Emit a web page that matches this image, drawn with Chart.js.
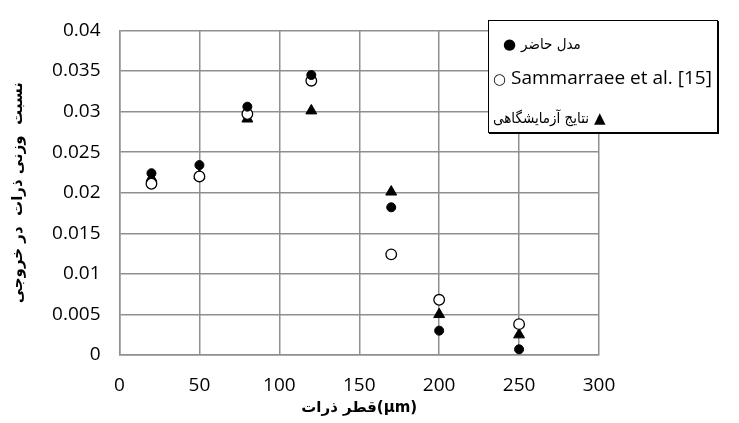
<!DOCTYPE html>
<html>
<head>
<meta charset="utf-8">
<script src="https://cdn.jsdelivr.net/npm/chart.js@4"></script>
<style>
  html, body { margin: 0; padding: 0; background: #fff; }
  #wrap { position: relative; width: 739px; height: 423px; }
  #legend {
    position: absolute; left: 488px; top: 20px; width: 230px; height: 113px;
    background: #fff; border: 1.5px solid #000; box-shadow: 1px 1px 0 #000;
    font-family: "Open Sans", sans-serif; font-size: 19px; color: #000;
    box-sizing: border-box;
  }
  .row { position: absolute; right: 0; white-space: nowrap; line-height: 24px; }
  .fa { font-family: "DejaVu Sans Condensed", "DejaVu Sans", sans-serif; font-size: 15px; }
  .mk { font-family: "DejaVu Sans", sans-serif; font-size: 15px; }
</style>
</head>
<body>
<div id="wrap">
  <canvas id="chart" width="739" height="423"></canvas>
  <div id="legend"></div>
</div>
<script>
const diameters = [20, 50, 80, 120, 170, 200, 250];
const presentModel = [0.0224, 0.0234, 0.0306, 0.0345, 0.0182, 0.0030, 0.0007];
const sammarraee = [0.0211, 0.0220, 0.0297, 0.0338, 0.0124, 0.0068, 0.0038];
const experiment = [0.0218, 0.0221, 0.0291, 0.0301, 0.0201, 0.0050, 0.0025];
const seriesNames = ['مدل حاضر', 'Sammarraee et al. [15]', 'نتایج آزمایشگاهی'];
const xTicks = [0, 50, 100, 150, 200, 250, 300];
const yTicks = [0, 0.005, 0.01, 0.015, 0.02, 0.025, 0.03, 0.035, 0.04];

const toPoints = (ys) => diameters.map((x, i) => ({ x: x, y: ys[i] }));

const ctx = document.getElementById('chart').getContext('2d');
new Chart(ctx, {
  type: 'scatter',
  data: {
    datasets: [
      {
        label: seriesNames[0],
        data: toPoints(presentModel),
        pointStyle: 'circle',
        pointRadius: 4.5,
        backgroundColor: '#000',
        borderColor: '#000',
        borderWidth: 1
      },
      {
        label: seriesNames[1],
        data: toPoints(sammarraee),
        pointStyle: 'circle',
        pointRadius: 5.3,
        backgroundColor: '#fff',
        borderColor: '#000',
        borderWidth: 1.3
      },
      {
        label: seriesNames[2],
        data: toPoints(experiment),
        pointStyle: 'triangle',
        pointRadius: 6.3,
        backgroundColor: '#000',
        borderColor: '#000',
        borderWidth: 1
      }
    ]
  },
  options: {
    responsive: false,
    animation: false,
    layout: { padding: { left: 0, right: 140, top: 19, bottom: 0 } },
    plugins: {
      legend: { display: false },
      tooltip: { enabled: false }
    },
    scales: {
      x: {
        type: 'linear',
        min: 0,
        max: 300,
        afterFit: (scale) => { scale.height = 68; },
        afterBuildTicks: (scale) => { scale.ticks = xTicks.map(v => ({ value: v })); },
        grid: { color: '#8f8f8f', lineWidth: 1.5, drawTicks: false },
        border: { color: '#8f8f8f', width: 1.5 },
        ticks: {
          padding: 19,
          color: '#000',
          font: { family: 'Open Sans', size: 19 }
        },
        title: {
          display: true,
          text: 'قطر ذرات(µm)',
          color: '#000',
          font: { family: 'DejaVu Sans', size: 15, weight: 'bold' },
          padding: { top: 0, bottom: 6 }
        }
      },
      y: {
        min: 0,
        max: 0.04,
        afterFit: (scale) => { scale.width = 119.5; },
        afterBuildTicks: (scale) => { scale.ticks = yTicks.map(v => ({ value: v })); },
        grid: { color: '#8f8f8f', lineWidth: 1.5, drawTicks: false },
        border: { color: '#8f8f8f', width: 1.5 },
        ticks: {
          padding: 19,
          color: '#000',
          font: { family: 'Open Sans', size: 19 },
          callback: (v) => String(Number(v.toFixed(3)))
        },
        title: {
          display: true,
          text: 'نسبت  وزنی ذرات  در خروجی',
          color: '#000',
          font: { family: 'DejaVu Sans', size: 15, weight: 'bold' },
          padding: { top: 9, bottom: 0 }
        }
      }
    }
  }
});

// legend box drawn over the plot like the original
const legend = document.getElementById('legend');
legend.innerHTML =
  '<div class="row" style="top:9px;left:14px"><span class="mk">●</span> <span class="fa">' + seriesNames[0] + '</span></div>' +
  '<div class="row" style="top:44px;left:4px"><span class="mk">○</span> ' + seriesNames[1] + '</div>' +
  '<div class="row" style="top:83px;left:4px"><span class="fa">' + seriesNames[2] + '</span> <span class="mk">▲</span></div>';
</script>
</body>
</html>
